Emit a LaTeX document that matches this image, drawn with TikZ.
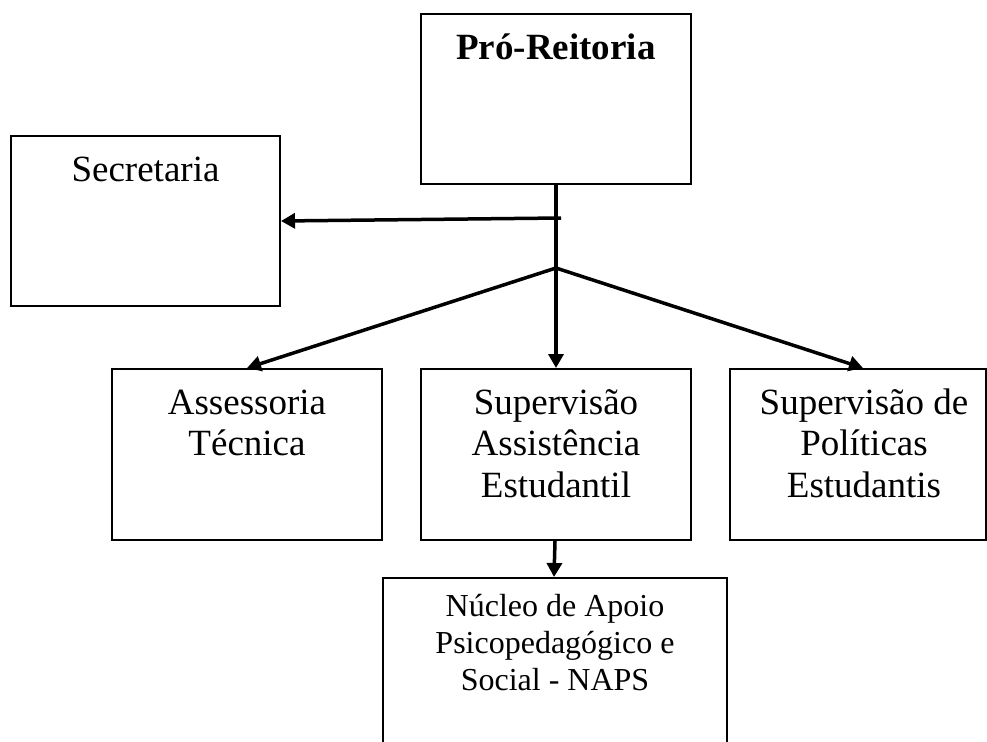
\documentclass[tikz,border=0pt]{standalone}
\usepackage{fontspec}
\setmainfont{Liberation Serif}
\usetikzlibrary{arrows.meta,calc}

\tikzset{
  box/.style={draw, line width=2pt, inner sep=0pt},
  lbl/.style={anchor=north, align=center, inner sep=0pt,
    font=\fontsize{37}{41.5}\selectfont},
  small lbl/.style={lbl, font=\fontsize{32}{37}\selectfont},
  link/.style={line width=3.5pt, -{Triangle[length=14pt,width=15pt]}},
}

\begin{document}
\begin{tikzpicture}[x=1pt, y=-1pt]

  \useasboundingbox (0,0) rectangle (987,741);
  \clip (0,0) rectangle (987,741);

  % boxes
  \node[box, minimum width=270pt, minimum height=170pt] (pro) at (556,99) {};
  \node[box, minimum width=269pt, minimum height=170pt] (sec) at (145.5,221) {};
  \node[box, minimum width=270pt, minimum height=171pt] (ass) at (247,454.5) {};
  \node[box, minimum width=270pt, minimum height=171pt] (sup) at (556,454.5) {};
  \node[box, minimum width=256pt, minimum height=171pt] (pol) at (858,454.5) {};
  \node[box, minimum width=344pt, minimum height=240pt] (naps) at (555,698) {};

  % texts
  \node[lbl, yshift=-17pt] (proT) at (pro.north) {\strut\bfseries Pró-Reitoria};
  \node[lbl, yshift=-17pt] (secT) at (sec.north) {\strut Secretaria};
  \node[lbl, yshift=-17pt] (assT) at (ass.north) {\strut Assessoria\\Técnica};
  \node[lbl, yshift=-17pt] (supT) at (sup.north) {\strut Supervisão\\Assistência\\Estudantil};
  \node[lbl, yshift=-17pt, xshift=6pt] (polT) at (pol.north) {\strut Supervisão de\\Políticas\\Estudantis};
  \node[small lbl, yshift=-13pt] (napsT) at (naps.north) {\strut Núcleo de Apoio\\Psicopedagógico e\\Social - NAPS};

  % connectors
  \coordinate (tee) at (561,218);
  \coordinate (fork) at (556,268);
  \draw[link] (pro.south) -- (sup.north);
  \draw[link] (tee) -- (sec.east);
  \draw[link] (fork) -- (ass.north);
  \draw[link] (fork) -- ($(pol.north)+(5,0)$);
  \draw[link] ($(sup.south)+(-1,0)$) -- ($(naps.north)+(-1,0)$);

\end{tikzpicture}
\end{document}
